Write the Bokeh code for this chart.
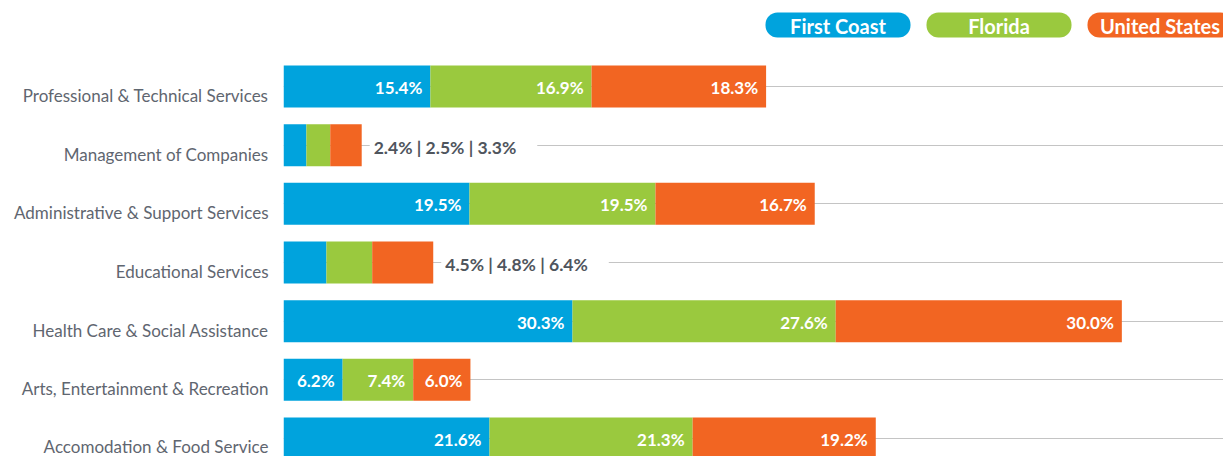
from bokeh.plotting import figure
from bokeh.models import Range1d, FixedTicker, CustomJSTickFormatter, Grid, ColumnDataSource
from bokeh.core.properties import value
from bokeh.embed import file_html
from bokeh.resources import INLINE

categories = ["Professional & Technical Services", "Management of Companies",
              "Administrative & Support Services", "Educational Services",
              "Health Care & Social Assistance", "Arts, Entertainment & Recreation",
              "Accomodation & Food Service"]
first_coast = [15.4, 2.4, 19.5, 4.5, 30.3, 6.2, 21.6]
florida = [16.9, 2.5, 19.5, 4.8, 27.6, 7.4, 21.3]
united_states = [18.3, 3.3, 16.7, 6.4, 30.0, 6.0, 19.2]
series_names = ["First Coast", "Florida", "United States"]
colors = ["#00a3dd", "#9ac93e", "#f26522"]

FONT = value("Lato")
W, H = 1223, 456
frame_left = 283
px_per_unit = 9.5375
row_px = 58.67
frame_w = W - frame_left
frame_h = H
top_center = 86  # px from frame top to first row centre

x_end = frame_w / px_per_unit
y_top = -top_center / row_px
y_bot = (frame_h - top_center) / row_px

p = figure(width=W, height=H, output_backend="svg", toolbar_location=None,
           x_range=Range1d(0, x_end), y_range=Range1d(y_bot, y_top),
           min_border_left=frame_left, min_border_right=0, min_border_top=0, min_border_bottom=0)
p.outline_line_color = None
p.xaxis.visible = False
p.xgrid.visible = False
p.ygrid.visible = False
p.background_fill_color = "white"

idx = list(range(len(categories)))
p.add_layout(Grid(dimension=1, ticker=FixedTicker(ticks=idx), grid_line_color="#c4c4c4",
                  grid_line_width=1))

# y axis labels, slightly below the bar centres
off = 0.153
yax = p.yaxis[0]
yax.ticker = FixedTicker(ticks=[i + off for i in idx])
yax.formatter = CustomJSTickFormatter(args=dict(labels=categories, off=off),
                                      code="return labels[Math.round(tick - off)];")
yax.axis_line_color = None
yax.major_tick_line_color = None
yax.minor_tick_line_color = None
yax.major_label_standoff = 9
yax.major_label_text_font = "Lato"
yax.major_label_text_font_size = "17px"
yax.major_label_text_color = "#5f6670"

series = [first_coast, florida, united_states]
left = [0.0] * len(categories)
inside_x, inside_y, inside_t = [], [], []
for vals, col in zip(series, colors):
    right = [l + v for l, v in zip(left, vals)]
    src = ColumnDataSource(dict(y=idx, left=left, right=right))
    p.hbar(y="y", left="left", right="right", height=42 / row_px, source=src,
           fill_color=col, line_color=None)
    for i in idx:
        if min(s[i] for s in series) >= 5:
            inside_x.append(right[i])
            inside_y.append(i)
            inside_t.append(f"{vals[i]:.1f}%")
    left = right

p.text(x=inside_x, y=inside_y, text=inside_t, x_offset=-8, y_offset=1,
       text_align="right", text_baseline="middle", text_color="white",
       text_font=FONT, text_font_style="bold", text_font_size="17px")

out_x, out_y, out_t = [], [], []
for i in idx:
    if min(s[i] for s in series) < 5:
        out_x.append(left[i])
        out_y.append(i)
        out_t.append("  |  ".join(f"{s[i]:.1f}%" for s in series))
p.text(x=out_x, y=out_y, text=out_t, x_offset=8, y_offset=2,
       text_align="left", text_baseline="middle", text_color="#4f555d",
       text_font=FONT, text_font_style="bold", text_font_size="17.5px",
       background_fill_color="white", padding=4)

# legend pills
pill_px = [837.5 - frame_left, 998.5 - frame_left, 1159.5 - frame_left]
pill_x = [v / px_per_unit for v in pill_px]
pill_y = [(24.5 - top_center) / row_px] * 3
p.rect(x=pill_x, y=pill_y, width=145, height=25, width_units="screen",
       height_units="screen", fill_color=colors, line_color=None, border_radius=12)
p.text(x=pill_x, y=pill_y, text=series_names, text_align="center", text_baseline="middle",
       text_color="white", text_font=FONT, text_font_style="bold", text_font_size="20px",
       y_offset=1)

open("out.html", "w").write(file_html(p, INLINE))
